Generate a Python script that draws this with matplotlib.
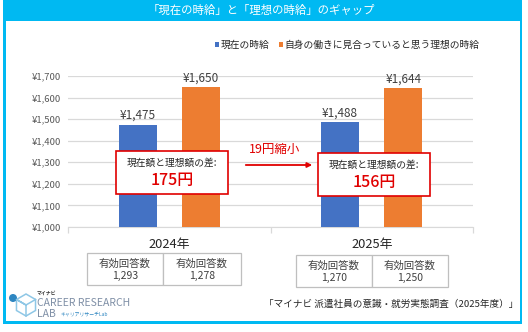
import matplotlib
matplotlib.use('Agg')
import matplotlib.pyplot as plt
from matplotlib.patches import Rectangle, Circle, RegularPolygon
import numpy as np

plt.rcParams['font.family'] = ['Noto Sans CJK JP', 'DejaVu Sans']

# データ
years = ['2024年', '2025年']
current = [1475, 1488]          # 現在の時給
ideal = [1650, 1644]            # 自身の働きに見合っていると思う理想の時給
n_current = [1293, 1270]        # 有効回答数（現在）
n_ideal = [1278, 1250]          # 有効回答数（理想）
yticks = [1000, 1100, 1200, 1300, 1400, 1500, 1600, 1700]
labels = ['現在の時給', '自身の働きに見合っていると思う理想の時給']

BLUE = '#4472C4'
ORANGE = '#ED7D31'
RED = '#E00000'
CYAN = '#00B9F2'
GRAY = '#595959'

W, H = 528, 332

def fx(x):
    return x / W

def fy(y):
    return 1 - y / H

fig = plt.figure(figsize=(W / 100, H / 100), dpi=100)
fig.patch.set_facecolor('white')

def rect(x0, y0, x1, y1, **kw):
    r = Rectangle((fx(x0), fy(y1)), (x1 - x0) / W, (y1 - y0) / H,
                  transform=fig.transFigure, **kw)
    fig.patches.append(r)
    return r

# 枠とタイトル帯
rect(3, 0, 522, 21, facecolor=CYAN, edgecolor='none')
rect(3, 0, 6, 324, facecolor=CYAN, edgecolor='none')
rect(519.5, 0, 522, 324, facecolor=CYAN, edgecolor='none')
rect(3, 321, 522, 324, facecolor=CYAN, edgecolor='none')
fig.text(fx(261), fy(10.5), '「現在の時給」と「理想の時給」のギャップ', color='white',
         fontsize=8.2, ha='center', va='center')

# 凡例
rect(215, 42.5, 219, 46.5, facecolor=BLUE, edgecolor='none')
fig.text(fx(220.5), fy(45), labels[0], fontsize=7, ha='left', va='center', color='#262626')
rect(279, 42.5, 283, 46.5, facecolor=ORANGE, edgecolor='none')
fig.text(fx(284.5), fy(45), labels[1], fontsize=7, ha='left', va='center', color='#262626')

# グラフ本体
ax = fig.add_axes([fx(68), fy(227), (473 - 68) / W, (227 - 76) / H])
x = np.arange(len(years))
off, bw = 0.156, 0.188
b1 = ax.bar(x - off, current, bw, color=BLUE, zorder=3)
b2 = ax.bar(x + off, ideal, bw, color=ORANGE, zorder=3)
for bars in (b1, b2):
    for b in bars:
        ax.text(b.get_x() + b.get_width() / 2, b.get_height() + 12,
                '¥{:,}'.format(int(b.get_height())), ha='center', va='bottom',
                fontsize=8.5, color='#404040', clip_on=False)

ax.set_xlim(-0.5, len(years) - 0.5)
ax.set_ylim(1000, 1700)
ax.set_yticks(yticks)
ax.set_yticklabels(['¥{:,}'.format(v) for v in yticks], fontsize=6.8, color=GRAY)
ax.yaxis.grid(True, color='#D9D9D9', lw=0.9, zorder=0)
ax.set_axisbelow(True)
for s in ('top', 'right', 'left'):
    ax.spines[s].set_visible(False)
ax.spines['bottom'].set_color('#D9D9D9')
ax.tick_params(axis='y', length=0, pad=5)
ax.set_xticks(x)
ax.set_xticklabels(years, fontsize=9.3, color='#262626')
ax.tick_params(axis='x', length=0, pad=8)
ax.set_xticks(np.arange(-0.5, len(years)), minor=True)
ax.tick_params(axis='x', which='minor', length=4, color='#D9D9D9', width=0.9)

# 差分ボックス
box_px = [(116, 151, 228, 194), (318, 153, 430, 196)]
for i, (x0, y0, x1, y1) in enumerate(box_px):
    rect(x0, y0, x1, y1, facecolor='white', edgecolor=RED, lw=1.2, zorder=5)
    cx = (x0 + x1) / 2
    fig.text(fx(cx), fy(y0 + 12), '現在額と理想額の差:', fontsize=7, ha='center',
             va='center', color='#262626', zorder=6)
    fig.text(fx(cx), fy(y0 + 29), '{}円'.format(ideal[i] - current[i]), fontsize=11.5,
             ha='center', va='center', color=RED, fontweight='medium', zorder=6)

# 矢印
shrink = (ideal[0] - current[0]) - (ideal[1] - current[1])
fig.patches.append(matplotlib.patches.FancyArrowPatch(
    (fx(243), fy(165)), (fx(315), fy(165)), transform=fig.transFigure,
    arrowstyle='-|>', mutation_scale=7, color=RED, lw=1.3))
fig.text(fx(275), fy(149), '{}円縮小'.format(shrink), fontsize=9, ha='center',
         va='center', color=RED)

# 有効回答数の表
tables = [(87, 163, 241, 253, 285), (296, 372, 448, 255, 287)]
for i, (xa, xb, xc, ya, yb) in enumerate(tables):
    for (l, r), n in zip(((xa, xb), (xb, xc)), (n_current[i], n_ideal[i])):
        rect(l, ya, r, yb, facecolor='white', edgecolor='#BFBFBF', lw=0.9)
        fig.text(fx((l + r) / 2), fy(ya + 11), '有効回答数', fontsize=7.5,
                 ha='center', va='center', color='#404040')
        fig.text(fx((l + r) / 2), fy(ya + 23), '{:,}'.format(n), fontsize=7.5,
                 ha='center', va='center', color='#404040')

# ロゴ
lax = fig.add_axes([fx(6), fy(322), 32 / W, 34 / H])
lax.set_xlim(0, 32)
lax.set_ylim(34, 0)
lax.set_aspect('equal')
lax.axis('off')
lax.add_patch(RegularPolygon((20, 17), 6, radius=11, fill=False,
                             edgecolor='#8EC7E6', lw=1.1))
lax.plot([20, 20, 10.5, 20, 29.5], [28, 17, 11.5, 17, 11.5], color='#8EC7E6', lw=1.1)
lax.add_patch(Circle((7, 10), 4, facecolor='#2E86C1', edgecolor='none'))
fig.text(fx(37), fy(293), 'マイナビ', fontsize=3.5, ha='left', va='center',
         color='#333333', fontweight='bold')
fig.text(fx(37), fy(302.5), 'CAREER RESEARCH', fontsize=7.5, ha='left', va='center',
         color='#7F8FA6')
fig.text(fx(37), fy(314), 'LAB', fontsize=7.5, ha='left', va='center', color='#7F8FA6')
fig.text(fx(60), fy(314), 'キャリアリサーチLab', fontsize=3.5, ha='left', va='center',
         color='#2E86C1')

# 出典
fig.text(fx(518), fy(304), '「マイナビ 派遣社員の意識・就労実態調査（2025年度）」',
         fontsize=6.9, ha='right', va='center', color='#262626')

fig.savefig('out.png', dpi=100)
